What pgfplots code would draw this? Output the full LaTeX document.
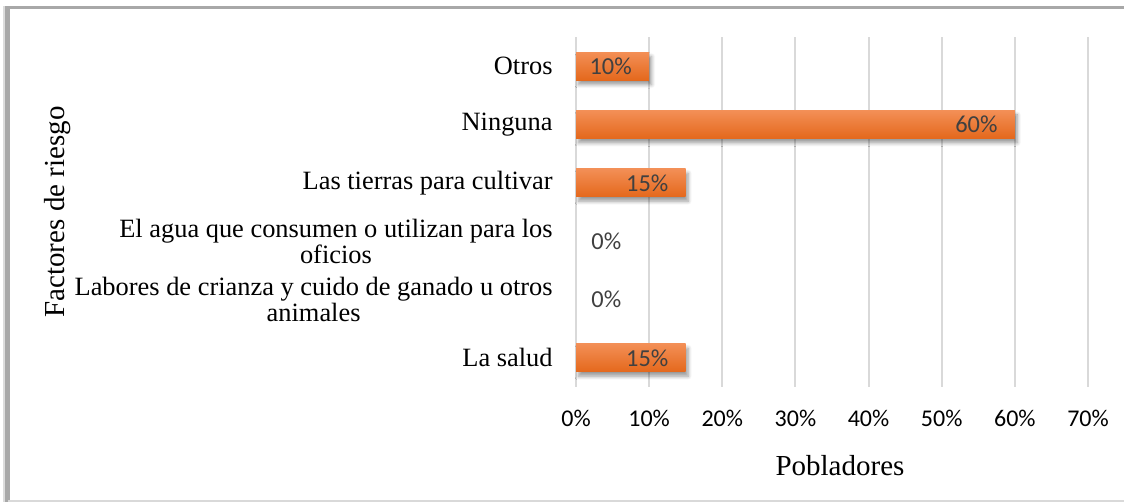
\documentclass[border=0pt]{standalone}
\usepackage{pgfplots}
\pgfplotsset{compat=1.18}
\usepackage{fontspec}
\setmainfont{Liberation Serif}
\newfontfamily\carlito{Carlito}
\usetikzlibrary{shadows.blur}
\definecolor{gridc}{RGB}{217,217,217}
\definecolor{bartop}{RGB}{243,143,86}
\definecolor{barmid}{RGB}{240,120,36}
\definecolor{barbot}{RGB}{228,104,28}
\definecolor{lblc}{RGB}{64,64,64}
\definecolor{framec}{RGB}{168,168,168}
\begin{document}
\begin{tikzpicture}
\path[use as bounding box] (0,0) rectangle (562pt,251pt);
% frame
\fill[framec!40] (1.5pt,0) rectangle (3pt,247.8pt);
\fill[framec] (2.5pt,0) rectangle (4.8pt,247.8pt);
\fill[framec] (2.5pt,246.3pt) rectangle (562pt,248.0pt);
\draw[gridc, line width=0.8pt] (4pt,0.4pt) -- (562pt,0.4pt);
\begin{axis}[
  at={(288pt,57.5pt)}, anchor=south west,
  scale only axis, width=256pt, height=175pt,
  xmin=0, xmax=70, ymin=-0.5, ymax=5.5,
  axis line style={draw=none},
  major tick length=0pt,
  xmajorgrids, major x grid style={draw=gridc, line width=1pt},
  xtick={0,10,20,30,40,50,60,70},
  xticklabels={0\%,10\%,20\%,30\%,40\%,50\%,60\%,70\%},
  xticklabel style={font=\carlito\fontsize{12pt}{12pt}\selectfont, anchor=center, yshift=-15.5pt, text=black},
  ytick={0,1,2,3,4,5},
  yticklabels={La salud,{Labores de crianza y cuido de ganado u otros\\animales},{El agua que consumen o utilizan para los\\oficios},Las tierras para cultivar,Ninguna,Otros},
  yticklabel style={font=\fontsize{13.2pt}{13pt}\selectfont, align=center, anchor=east, inner sep=0pt, xshift=-11.5pt, text=black},
  xlabel={Pobladores},
  ylabel={Factores de riesgo},
  every axis x label/.style={at={(rel axis cs:0.5,0)}, anchor=center, yshift=-39.5pt, xshift=4pt, font=\fontsize{14.5pt}{14.5pt}\selectfont},
  every axis y label/.style={at={(rel axis cs:0,0.5)}, xshift=-259pt, anchor=center, rotate=90, font=\fontsize{14.5pt}{14.5pt}\selectfont},
  clip=false,
  barsty/.style={xbar, bar width=14pt, bar shift=0pt, draw=none,
    top color=bartop, middle color=barmid, bottom color=barbot,
    blur shadow={shadow xshift=1.2pt, shadow yshift=-2.2pt, shadow blur steps=6, shadow opacity=40}},
]
\addplot[barsty] coordinates {(15,0)};
\addplot[barsty, restrict x to domain=0.5:100] coordinates {(0,1)};
\addplot[barsty, restrict x to domain=0.5:100] coordinates {(0,2)};
\addplot[barsty] coordinates {(15,3)};
\addplot[barsty] coordinates {(60,4)};
\addplot[barsty] coordinates {(10,5)};
\begin{scope}[every node/.style={font=\carlito\fontsize{12.2pt}{12pt}\selectfont, text=lblc, inner sep=0pt}]
\node[anchor=east, xshift=-8.5pt] at (axis cs:15,0) {15\%};
\node[anchor=west, xshift=7.5pt] at (axis cs:0,1) {0\%};
\node[anchor=west, xshift=7.5pt] at (axis cs:0,2) {0\%};
\node[anchor=east, xshift=-8.5pt] at (axis cs:15,3) {15\%};
\node[anchor=east, xshift=-8.5pt] at (axis cs:60,4) {60\%};
\node[anchor=east, xshift=-8.5pt] at (axis cs:10,5) {10\%};
\end{scope}
\end{axis}
\end{tikzpicture}
\end{document}
